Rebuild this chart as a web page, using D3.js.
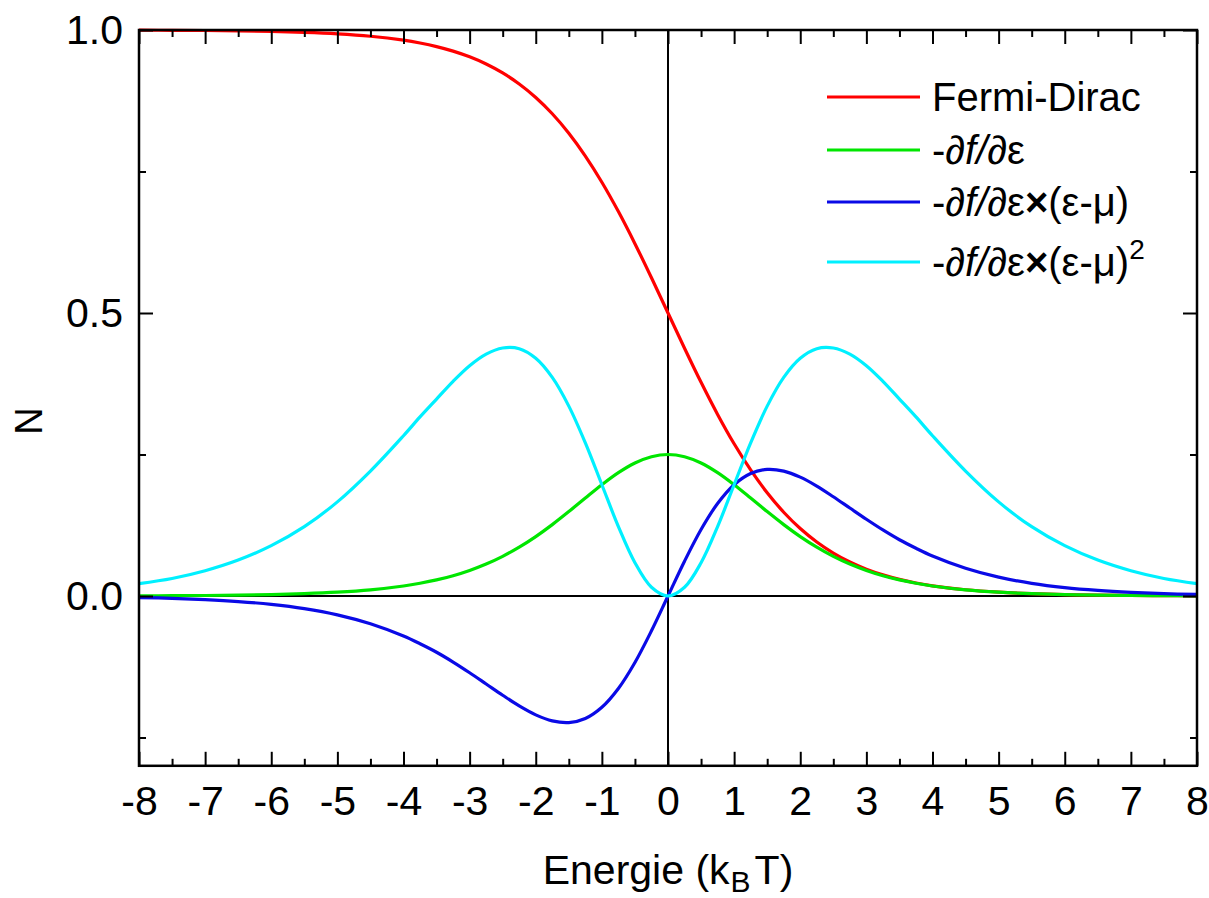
<!DOCTYPE html>
<html>
<head>
<meta charset="utf-8">
<script src="https://cdn.jsdelivr.net/npm/d3@7"></script>
<style>
  body { margin: 0; background: #fff; }
  svg { display: block; font-family: "Liberation Sans", Arial, sans-serif; }
</style>
</head>
<body>
<svg id="chart" width="1209" height="898"></svg>
<script>
// energy axis, in kBT
const energy = [-8, -7.5, -7, -6.5, -6, -5.5, -5, -4.5,
  -4, -3.75, -3.5, -3.25, -3, -2.75, -2.5, -2.25, -2, -1.75, -1.5, -1.25, -1, -0.75, -0.5, -0.25,
  0, 0.25, 0.5, 0.75, 1, 1.25, 1.5, 1.75, 2, 2.25, 2.5, 2.75, 3, 3.25, 3.5, 3.75, 4,
  4.5, 5, 5.5, 6, 6.5, 7, 7.5, 8]

// values
const fermiDirac = [0.9997, 0.9994, 0.9991, 0.9985, 0.9975, 0.9959, 0.9933, 0.9890,
  0.9820, 0.9770, 0.9707, 0.9627, 0.9526, 0.9399, 0.9241, 0.9046, 0.8808, 0.8520, 0.8176, 0.7773, 0.7311, 0.6792, 0.6225, 0.5622,
  0.5, 0.4378, 0.3775, 0.3208, 0.2689, 0.2227, 0.1824, 0.1480, 0.1192, 0.0954, 0.0759, 0.0601, 0.0474, 0.0373, 0.0293, 0.0230, 0.0180,
  0.0110, 0.0067, 0.0041, 0.0025, 0.0015, 0.0009, 0.0006, 0.0003]
const dfde = [0.0003, 0.0006, 0.0009, 0.0015, 0.0025, 0.0041, 0.0067, 0.0109,
  0.0177, 0.0225, 0.0284, 0.0359, 0.0452, 0.0565, 0.0701, 0.0863, 0.1050, 0.1261, 0.1491, 0.1731, 0.1966, 0.2179, 0.2350, 0.2461,
  0.25, 0.2461, 0.2350, 0.2179, 0.1966, 0.1731, 0.1491, 0.1261, 0.1050, 0.0863, 0.0701, 0.0565, 0.0452, 0.0359, 0.0284, 0.0225, 0.0177,
  0.0109, 0.0067, 0.0041, 0.0025, 0.0015, 0.0009, 0.0006, 0.0003]
const dfdeE = [-0.0027, -0.0041, -0.0064, -0.0098, -0.0148, -0.0223, -0.0333, -0.0491,
  -0.0708, -0.0844, -0.0994, -0.1167, -0.1356, -0.1554, -0.1753, -0.1942, -0.2100, -0.2207, -0.2237, -0.2164, -0.1966, -0.1634, -0.1175, -0.0615,
  0, 0.0615, 0.1175, 0.1634, 0.1966, 0.2164, 0.2237, 0.2207, 0.2100, 0.1942, 0.1753, 0.1554, 0.1356, 0.1167, 0.0994, 0.0844, 0.0708,
  0.0491, 0.0333, 0.0223, 0.0148, 0.0098, 0.0064, 0.0041, 0.0027]
const dfdeE2 = [0.0218, 0.0309, 0.0446, 0.0634, 0.0889, 0.1225, 0.1663, 0.2207,
  0.2832, 0.3164, 0.3479, 0.3792, 0.4068, 0.4273, 0.4381, 0.4369, 0.4200, 0.3862, 0.3355, 0.2705, 0.1966, 0.1226, 0.0588, 0.0154,
  0, 0.0154, 0.0588, 0.1226, 0.1966, 0.2705, 0.3355, 0.3862, 0.4200, 0.4369, 0.4381, 0.4273, 0.4068, 0.3792, 0.3479, 0.3164, 0.2832,
  0.2207, 0.1663, 0.1225, 0.0889, 0.0634, 0.0446, 0.0309, 0.0218]

const xMajor = d3.range(-8, 9, 1)
const xMinor = d3.range(-7.5, 8, 1)
const yMajor = [0, 0.5, 1.0]
const yMinor = [-0.25, 0.25, 0.75]

const series = [
  { name: "fd", values: fermiDirac, color: "#ff0000" },
  { name: "d1", values: dfde, color: "#00e600" },
  { name: "d2", values: dfdeE, color: "#0a0ae6" },
  { name: "d3", values: dfdeE2, color: "#00f0ff" }
]

const svg = d3.select("#chart")
const plotLeft = 139, plotRight = 1197, plotTop = 30, plotBottom = 765.8

const xScale = d3.scaleLinear().domain([-8, 8]).range([plotLeft, plotRight])
const yScale = d3.scaleLinear().domain([-0.3, 1.0]).range([plotBottom, plotTop])

// zero lines
svg.append("line")
  .attr("x1", plotLeft).attr("x2", plotRight)
  .attr("y1", yScale(0)).attr("y2", yScale(0))
  .attr("stroke", "#000").attr("stroke-width", 2)
svg.append("line")
  .attr("x1", xScale(0)).attr("x2", xScale(0))
  .attr("y1", plotTop).attr("y2", plotBottom)
  .attr("stroke", "#000").attr("stroke-width", 2)

// curves
let line = d3.line()
  .x((d, i) => xScale(energy[i]))
  .y(d => yScale(d))
  .curve(d3.curveCatmullRom.alpha(0.5))

svg.append("g")
  .selectAll("path")
  .data(series)
  .enter().append("path")
  .attr("d", d => line(d.values))
  .attr("fill", "none")
  .attr("stroke", d => d.color)
  .attr("stroke-width", 3.2)

// axes, ticks pointing inward
function styleAxis(g) {
  g.select(".domain").remove()
  g.selectAll("line").attr("stroke", "#000").attr("stroke-width", 2)
  g.selectAll("text").attr("font-size", "41px").attr("fill", "#000")
}

svg.append("g")
  .attr("transform", "translate(0," + plotBottom + ")")
  .call(d3.axisBottom(xScale).tickValues(xMajor).tickSizeInner(-14).tickSizeOuter(0).tickPadding(20)
    .tickFormat(d => d < 0 ? "-" + Math.abs(d) : d))
  .call(styleAxis)
svg.append("g")
  .attr("transform", "translate(0," + plotBottom + ")")
  .call(d3.axisBottom(xScale).tickValues(xMinor).tickSizeInner(-7).tickSizeOuter(0).tickFormat(""))
  .call(styleAxis)
svg.append("g")
  .attr("transform", "translate(0," + plotTop + ")")
  .call(d3.axisTop(xScale).tickValues(xMajor).tickSizeInner(-14).tickSizeOuter(0).tickFormat(""))
  .call(styleAxis)
svg.append("g")
  .attr("transform", "translate(0," + plotTop + ")")
  .call(d3.axisTop(xScale).tickValues(xMinor).tickSizeInner(-7).tickSizeOuter(0).tickFormat(""))
  .call(styleAxis)

svg.append("g")
  .attr("transform", "translate(" + plotLeft + ",0)")
  .call(d3.axisLeft(yScale).tickValues(yMajor).tickSizeInner(-14).tickSizeOuter(0).tickPadding(16)
    .tickFormat(d3.format(".1f")))
  .call(styleAxis)
svg.append("g")
  .attr("transform", "translate(" + plotLeft + ",0)")
  .call(d3.axisLeft(yScale).tickValues(yMinor).tickSizeInner(-7).tickSizeOuter(0).tickFormat(""))
  .call(styleAxis)
svg.append("g")
  .attr("transform", "translate(" + plotRight + ",0)")
  .call(d3.axisRight(yScale).tickValues(yMajor).tickSizeInner(-14).tickSizeOuter(0).tickFormat(""))
  .call(styleAxis)
svg.append("g")
  .attr("transform", "translate(" + plotRight + ",0)")
  .call(d3.axisRight(yScale).tickValues(yMinor).tickSizeInner(-7).tickSizeOuter(0).tickFormat(""))
  .call(styleAxis)

// frame
svg.append("rect")
  .attr("x", plotLeft).attr("y", plotTop)
  .attr("width", plotRight - plotLeft).attr("height", plotBottom - plotTop)
  .attr("fill", "none").attr("stroke", "#000").attr("stroke-width", 2.5)

// axis titles
let xTitle = svg.append("text")
  .attr("x", xScale(0)).attr("y", 884)
  .attr("text-anchor", "middle").attr("font-size", "41px")
xTitle.append("tspan").text("Energie (k")
xTitle.append("tspan").attr("font-size", "30px").attr("dx", 1).attr("dy", 8).text("B")
xTitle.append("tspan").attr("dx", 4).attr("dy", -8).text("T)")

svg.append("text")
  .attr("transform", "translate(42,421) rotate(-90)")
  .attr("text-anchor", "middle").attr("font-size", "38px")
  .text("N")

// legend
let legend = svg.append("g")
let legendY = [97, 150, 202, 262]
legend.selectAll("line")
  .data(series)
  .enter().append("line")
  .attr("x1", 827).attr("x2", 920)
  .attr("y1", (d, i) => legendY[i]).attr("y2", (d, i) => legendY[i])
  .attr("stroke", d => d.color).attr("stroke-width", 3.2)

function legendText(i) {
  return legend.append("text")
    .attr("x", 932).attr("y", legendY[i] + 14)
    .attr("font-size", "40px")
}
legendText(0).text("Fermi-Dirac")
function derivative(t) {
  t.append("tspan").text("-")
  t.append("tspan").attr("font-style", "italic").text("\u2202f/\u2202")
  t.append("tspan").text("\u03b5")
  return t
}
derivative(legendText(1))
let t2 = derivative(legendText(2))
t2.append("tspan").attr("font-weight", "bold").text("\u00d7")
t2.append("tspan").text("(\u03b5-\u03bc)")
let t3 = derivative(legendText(3))
t3.append("tspan").attr("font-weight", "bold").text("\u00d7")
t3.append("tspan").text("(\u03b5-\u03bc)")
t3.append("tspan").attr("font-size", "28px").attr("dy", -17).text("2")
</script>
</body>
</html>
